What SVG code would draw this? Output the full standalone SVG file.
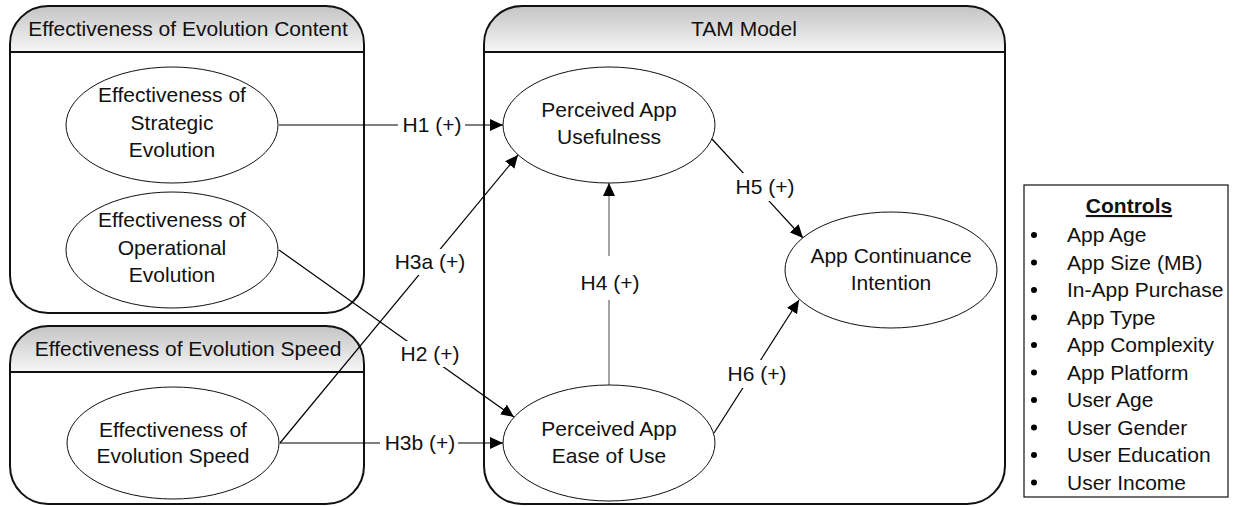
<svg xmlns="http://www.w3.org/2000/svg" width="1236" height="506" viewBox="0 0 1236 506">
<defs>
<linearGradient id="hdr" x1="0" y1="0" x2="0" y2="1">
<stop offset="0" stop-color="#c4c4c4"/>
<stop offset="1" stop-color="#f6f6f6"/>
</linearGradient>
<marker id="arr" markerUnits="userSpaceOnUse" markerWidth="14" markerHeight="12" refX="13" refY="6" orient="auto">
<path d="M0,0 L13,6 L0,12 Z" fill="#000"/>
</marker>
</defs>
<style>
text{font-family:"Liberation Sans",Arial,sans-serif;font-size:21px;fill:#111}
.c{text-anchor:middle}
.box{fill:none;stroke:#111;stroke-width:2}
.hl{stroke:#111;stroke-width:2}
.el{fill:#fff;stroke:#111;stroke-width:1}
.ln{stroke:#000;stroke-width:1.2;fill:none}
.bg{fill:#fff}
</style>
<rect width="1236" height="506" fill="#fff"/>

<g id="container-content">
<path d="M10,52 V44 A38,38 0 0 1 48,6 H326 A38,38 0 0 1 364,44 V52 Z" fill="url(#hdr)"/>
<rect x="10" y="6" width="354" height="307" rx="38" ry="38" class="box"/>
<line x1="10" y1="52" x2="364" y2="52" class="hl"/>
<text x="188" y="36" class="c">Effectiveness of Evolution Content</text>
</g>

<g id="container-speed">
<path d="M10,372 V364 A38,38 0 0 1 48,326 H326 A38,38 0 0 1 364,364 V372 Z" fill="url(#hdr)"/>
<rect x="10" y="326" width="354" height="178" rx="38" ry="38" class="box"/>
<line x1="10" y1="372" x2="364" y2="372" class="hl"/>
<text x="188" y="356" class="c">Effectiveness of Evolution Speed</text>
</g>

<g id="container-tam">
<path d="M484,52 V44 A38,38 0 0 1 522,6 H967 A38,38 0 0 1 1005,44 V52 Z" fill="url(#hdr)"/>
<rect x="484" y="6" width="521" height="498" rx="38" ry="38" class="box"/>
<line x1="484" y1="52" x2="1005" y2="52" class="hl"/>
<text x="744" y="36" class="c">TAM Model</text>
</g>

<g id="connectors">
<line x1="279" y1="125" x2="503" y2="125" class="ln" marker-end="url(#arr)"/>
<line x1="279" y1="250" x2="514" y2="417" class="ln" marker-end="url(#arr)"/>
<line x1="280" y1="443" x2="518" y2="155" class="ln" marker-end="url(#arr)"/>
<line x1="280" y1="443" x2="503" y2="443" class="ln" marker-end="url(#arr)"/>
<line x1="609" y1="385" x2="609" y2="183" stroke="#666" stroke-width="1.2" marker-end="url(#arr)"/>
<line x1="712" y1="139" x2="803" y2="238" class="ln" marker-end="url(#arr)"/>
<line x1="714" y1="433" x2="799" y2="300" class="ln" marker-end="url(#arr)"/>
<rect x="398" y="113" width="67" height="24" class="bg"/>
<text x="432" y="132" class="c">H1 (+)</text>
<rect x="397" y="249" width="67" height="26" class="bg"/>
<text x="430" y="269" class="c">H3a (+)</text>
<rect x="399" y="341" width="62" height="26" class="bg"/>
<text x="430" y="361" class="c">H2 (+)</text>
<rect x="380" y="431" width="78" height="24" class="bg"/>
<text x="420" y="450" class="c">H3b (+)</text>
<rect x="580" y="256" width="60" height="44" class="bg"/>
<text x="610" y="290" class="c">H4 (+)</text>
<rect x="734" y="173" width="62" height="28" class="bg"/>
<text x="765" y="194" class="c">H5 (+)</text>
<rect x="726" y="360" width="62" height="28" class="bg"/>
<text x="757" y="381" class="c">H6 (+)</text>
</g>

<g id="node-strategic">
<ellipse cx="172" cy="125" rx="106" ry="58" class="el"/>
<text x="172" y="102" class="c">Effectiveness of</text>
<text x="172" y="130" class="c">Strategic</text>
<text x="172" y="157" class="c">Evolution</text>
</g>

<g id="node-operational">
<ellipse cx="172" cy="250" rx="106" ry="58" class="el"/>
<text x="172" y="227" class="c">Effectiveness of</text>
<text x="172" y="255" class="c">Operational</text>
<text x="172" y="282" class="c">Evolution</text>
</g>

<g id="node-speed">
<ellipse cx="173" cy="443" rx="106" ry="56" class="el"/>
<text x="173" y="437" class="c">Effectiveness of</text>
<text x="173" y="463" class="c">Evolution Speed</text>
</g>

<g id="node-usefulness">
<ellipse cx="609" cy="125" rx="106" ry="58" class="el"/>
<text x="609" y="117" class="c">Perceived App</text>
<text x="609" y="144" class="c">Usefulness</text>
</g>

<g id="node-ease">
<ellipse cx="609" cy="443" rx="106" ry="58" class="el"/>
<text x="609" y="436" class="c">Perceived App</text>
<text x="609" y="463" class="c">Ease of Use</text>
</g>

<g id="node-continuance">
<ellipse cx="891" cy="270" rx="106" ry="58" class="el"/>
<text x="891" y="263" class="c">App Continuance</text>
<text x="891" y="290" class="c">Intention</text>
</g>

<g id="controls">
<rect x="1024" y="185" width="204" height="312" fill="#fff" stroke="#111" stroke-width="1.2"/>
<text x="1129" y="213" class="c" font-weight="bold" text-decoration="underline">Controls</text>
<g fill="#000">
<circle cx="1034" cy="235" r="3"/>
<circle cx="1034" cy="262.5" r="3"/>
<circle cx="1034" cy="290" r="3"/>
<circle cx="1034" cy="317.5" r="3"/>
<circle cx="1034" cy="345" r="3"/>
<circle cx="1034" cy="372.5" r="3"/>
<circle cx="1034" cy="400" r="3"/>
<circle cx="1034" cy="427.5" r="3"/>
<circle cx="1034" cy="455" r="3"/>
<circle cx="1034" cy="482.5" r="3"/>
</g>
<text x="1067" y="242">App Age</text>
<text x="1067" y="269.5">App Size (MB)</text>
<text x="1067" y="297">In-App Purchase</text>
<text x="1067" y="324.5">App Type</text>
<text x="1067" y="352">App Complexity</text>
<text x="1067" y="379.5">App Platform</text>
<text x="1067" y="407">User Age</text>
<text x="1067" y="434.5">User Gender</text>
<text x="1067" y="462">User Education</text>
<text x="1067" y="489.5">User Income</text>
</g>
</svg>
